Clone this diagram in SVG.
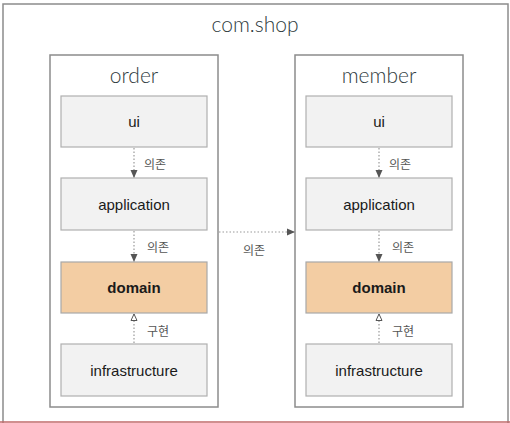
<svg xmlns="http://www.w3.org/2000/svg" width="510" height="423" viewBox="0 0 510 423">
<defs>
<style>
.frame{fill:#ffffff;stroke:#8c8c8c;stroke-width:1.5}
.box{fill:#f2f2f2;stroke:#b0b0b0;stroke-width:1.2}
.dom{fill:#f3cda3;stroke:#a8a8a8;stroke-width:1.2}
.title{font-family:Lato,"Liberation Sans",sans-serif;font-size:21px;font-weight:300;fill:#2f3b40;text-anchor:middle}
.lbl{font-family:"Liberation Sans",Arial,sans-serif;font-size:15px;fill:#1a1a1a;text-anchor:middle}
.bold{font-weight:bold}
.edge{stroke:#9a9a9a;stroke-width:1.2;stroke-dasharray:1.5 2;fill:none}
.el{font-family:"Noto Sans CJK KR","Noto Sans",sans-serif;font-size:12px;fill:#555555}
</style>
<marker id="arr" markerWidth="8" markerHeight="8" refX="7" refY="4" orient="auto" markerUnits="userSpaceOnUse">
<path d="M0,0.5 L8,4 L0,7.5 Z" fill="#555555"/>
</marker>
<marker id="tri" markerWidth="8" markerHeight="8" refX="7" refY="4" orient="auto" markerUnits="userSpaceOnUse">
<path d="M0.5,1 L7,4 L0.5,7 Z" fill="#ffffff" stroke="#555555" stroke-width="1"/>
</marker>
</defs>
<rect width="510" height="423" fill="#ffffff"/>
<g id="com.shop">
<rect class="frame" x="3" y="4" width="505" height="430"/>
<text class="title" x="255" y="32">com.shop</text>
</g>
<line x1="0" y1="422" x2="510" y2="422" stroke="#c06a6a" stroke-width="1.5"/>
<g id="order">
<rect class="frame" x="50" y="55" width="168" height="352"/>
<text class="title" x="134" y="83">order</text>
</g>
<g id="member">
<rect class="frame" x="295" y="55" width="168" height="352"/>
<text class="title" x="379" y="83">member</text>
</g>
<g id="order-ui"><rect class="box" x="61" y="96" width="146" height="51"/><text class="lbl" x="134" y="127">ui</text></g>
<g id="order-application"><rect class="box" x="61" y="178" width="146" height="52"/><text class="lbl" x="134" y="210">application</text></g>
<g id="order-domain"><rect class="dom" x="61" y="262" width="146" height="51"/><text class="lbl bold" x="134" y="293">domain</text></g>
<g id="order-infrastructure"><rect class="box" x="61" y="344" width="146" height="52"/><text class="lbl" x="134" y="376">infrastructure</text></g>
<g id="member-ui"><rect class="box" x="306" y="96" width="146" height="51"/><text class="lbl" x="379" y="127">ui</text></g>
<g id="member-application"><rect class="box" x="306" y="178" width="146" height="52"/><text class="lbl" x="379" y="210">application</text></g>
<g id="member-domain"><rect class="dom" x="306" y="262" width="146" height="51"/><text class="lbl bold" x="379" y="293">domain</text></g>
<g id="member-infrastructure"><rect class="box" x="306" y="344" width="146" height="52"/><text class="lbl" x="379" y="376">infrastructure</text></g>
<g id="connectors">
<line class="edge" x1="134" y1="148" x2="134" y2="177" marker-end="url(#arr)"/>
<text class="el" x="144" y="169">의존</text>
<line class="edge" x1="134" y1="231" x2="134" y2="261" marker-end="url(#arr)"/>
<text class="el" x="147" y="252">의존</text>
<line class="edge" x1="134" y1="343" x2="134" y2="314" marker-end="url(#tri)"/>
<text class="el" x="147" y="336">구현</text>
<line class="edge" x1="379" y1="148" x2="379" y2="177" marker-end="url(#arr)"/>
<text class="el" x="389" y="169">의존</text>
<line class="edge" x1="379" y1="231" x2="379" y2="261" marker-end="url(#arr)"/>
<text class="el" x="392" y="252">의존</text>
<line class="edge" x1="379" y1="343" x2="379" y2="314" marker-end="url(#tri)"/>
<text class="el" x="392" y="336">구현</text>
<line class="edge" x1="219" y1="232" x2="294" y2="232" marker-end="url(#arr)"/>
<text class="el" x="243" y="255">의존</text>
</g>
</svg>
